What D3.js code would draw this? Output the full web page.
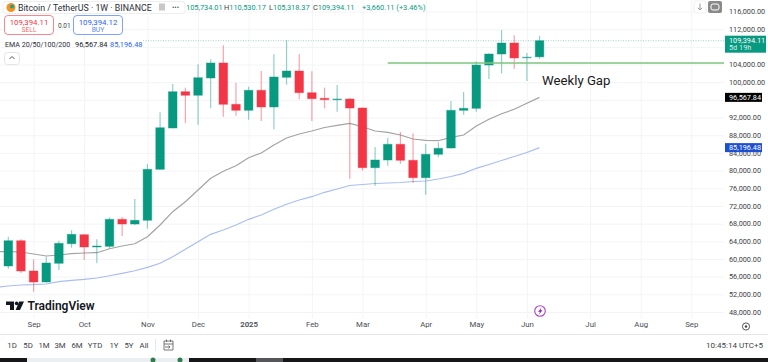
<!DOCTYPE html>
<html>
<head>
<meta charset="utf-8">
<script src="https://cdn.jsdelivr.net/npm/d3@7"></script>
<style>
    html, body { margin: 0; padding: 0; background: #fff; overflow: hidden; }
    svg { display: block; }
    text { font-family: Roboto, sans-serif; }
</style>
</head>
<body>
<div id="chart"></div>
<script>
// weekly candles, first one is the week of 19 Aug 2024
const firstWeek = "2024-08-19";
const opens = [58410,64130,57280,54790,59020,63450,65490,62710,62865,68975,67910,68750,80290,89640,97850,97040,100950,104350,95000,93640,98170,94390,101110,102535,97625,96360,96040,96200,94160,80650,82395,85950,82330,78390,83685,85110,93640,94090,103890,106380,108870,105590,105734.01];
const highs = [65040,64450,59920,60510,64130,66490,65580,64450,69430,69500,73570,81490,93190,99590,98760,104050,105180,108350,99890,98980,102535,106310,109550,106380,102470,98760,99370,96490,94320,85340,87440,88730,88440,86015,86400,95750,97780,104730,106540,111810,110610,106610,110530.17];
const lows = [57800,56820,52590,54700,57500,62550,59760,59020,62410,65200,67620,66850,80200,89500,90770,90380,94090,92190,92420,91510,91220,89340,99435,96130,91220,94090,93325,78160,79970,76580,81105,81560,77190,74540,83005,85000,92650,93325,100725,102015,102990,100270,105318.37];
const closes = [64130,57280,54790,59090,63540,65580,62710,62930,68975,67910,68750,80290,89700,97850,97040,101020,104350,95000,93640,98170,94390,101180,102535,97625,96270,96040,96200,94160,80650,82395,85950,82330,78390,83685,85040,93640,94090,103890,106380,108870,105480,105660,109394.11];

// EMA lines start one week before the first candle (off the left edge)
const emaFirstWeek = "2024-08-12";
const ema100 = [61690,61640,61575,61120,60670,60895,61190,61350,61415,62320,62930,63450,65040,67685,70695,72960,75605,78250,79840,81105,82915,83980,85790,87370,88280,88960,89750,90250,90700,89930,88960,88660,88050,87150,86850,86760,87530,88050,90090,91605,92870,93870,95225,96567.84];
const ema200 = [53585,53880,54105,54175,54330,54855,55170,55395,55690,56210,56755,57340,58110,59020,60510,62185,63905,65580,66555,67685,68975,69950,71240,72370,73340,74090,75085,75830,76625,76850,77075,77190,77300,77530,77640,78095,78660,79385,80515,81375,82280,83185,84090,85196.48];

const priceTicks = [116000,112000,108000,104000,100000,96000,92000,88000,84000,80000,76000,72000,68000,64000,60000,56000,52000,48000];
// these two labels sit completely behind the price tags
const hiddenLabels = [108000,96000];
const monthDates = ["2024-09-02","2024-09-30","2024-11-04","2024-12-02","2024-12-30","2025-02-03","2025-03-03","2025-04-07","2025-05-05","2025-06-02","2025-07-07","2025-08-04","2025-09-01"];
const monthLabels = ["Sep","Oct","Nov","Dec","2025","Feb","Mar","Apr","May","Jun","Jul","Aug","Sep"];
const rangeButtons = ["1D","5D","1M","3M","6M","YTD","1Y","5Y","All"];
const rangeX = [12,28,44,60,77,95,114,129,144];

const gapLevel = 104340;
const gapStart = "2025-03-17";

const width = 768, height = 362;
const plotRight = 724, plotBottom = 318;
const green = "#089981", red = "#f23645";

const parseDay = d3.utcParse("%Y-%m-%d");

const x = d3.scaleUtc()
    .domain([parseDay(firstWeek), parseDay("2025-09-01")])
    .range([8.3, 691.3]);
const y = d3.scaleLinear()
    .domain([48000, 116000])
    .range([312, 11.5]);

const candles = opens.map((o, i) => ({
    date: d3.utcDay.offset(parseDay(firstWeek), i * 7),
    open: o, high: highs[i], low: lows[i], close: closes[i]
}));

const svg = d3.select("#chart").append("svg")
    .attr("width", width)
    .attr("height", height);

svg.append("rect").attr("width", width).attr("height", height).attr("fill", "#fff");

// grid + axis labels come from the same axes
const xAxis = d3.axisBottom(x)
    .tickValues(monthDates.map(parseDay))
    .tickSize(plotBottom)
    .tickPadding(3)
    .tickFormat((d, i) => monthLabels[i]);
const gx = svg.append("g").call(xAxis);
gx.select(".domain").remove();
gx.selectAll("line").attr("stroke", "#f3f4f6");
gx.selectAll("text").attr("font-size", 7.8).attr("fill", "#4a4d57")
    .attr("font-family", "Roboto")
    .attr("font-weight", (d, i) => monthLabels[i] === "2025" ? 600 : 400);

const yAxis = d3.axisRight(y)
    .tickValues(priceTicks)
    .tickSize(plotRight)
    .tickPadding(5)
    .tickFormat(d => hiddenLabels.includes(d) ? "" : d3.format(",.2f")(d));
const gy = svg.append("g").call(yAxis);
gy.select(".domain").remove();
gy.selectAll("line").attr("stroke", "#f3f4f6");
gy.selectAll("text").attr("font-size", 7.3).attr("fill", "#3c3f48").attr("font-family", "Roboto");

// current price dotted line
svg.append("line")
    .attr("x1", 143).attr("x2", plotRight)
    .attr("y1", y(closes[closes.length - 1])).attr("y2", y(closes[closes.length - 1]))
    .attr("stroke", "#9fd6cb").attr("stroke-width", 1).attr("stroke-dasharray", "1,1.5");

// ema lines
const emaDate = i => d3.utcDay.offset(parseDay(emaFirstWeek), i * 7);
const line = d3.line().x((d, i) => x(emaDate(i))).y(d => y(d));
svg.append("path").datum(ema100)
    .attr("d", line).attr("fill", "none").attr("stroke", "#a3a3a3").attr("stroke-width", 1.2);
svg.append("path").datum(ema200)
    .attr("d", line).attr("fill", "none").attr("stroke", "#aabdf0").attr("stroke-width", 1.2);

// candles
const isUp = d => d.close >= d.open;
const color = d => isUp(d) ? green : red;

svg.selectAll(".wick").data(candles).enter().append("line")
    .attr("class", "wick")
    .attr("x1", d => x(d.date)).attr("x2", d => x(d.date))
    .attr("y1", d => y(d.high)).attr("y2", d => y(d.low))
    .attr("stroke", color).attr("stroke-opacity", 0.45).attr("stroke-width", 1.2);

svg.selectAll(".body").data(candles).enter().append("rect")
    .attr("class", "body")
    .attr("x", d => x(d.date) - 4.3)
    .attr("width", 8.6)
    .attr("y", d => y(Math.max(d.open, d.close)))
    .attr("height", d => Math.max(0.6, Math.abs(y(d.open) - y(d.close))))
    .attr("fill", color)
    .attr("stroke", color).attr("stroke-opacity", 0.4).attr("stroke-width", 1);

// weekly gap drawing
svg.append("line")
    .attr("x1", x(parseDay(gapStart))).attr("x2", plotRight)
    .attr("y1", y(gapLevel)).attr("y2", y(gapLevel))
    .attr("stroke", "#7cc47f").attr("stroke-width", 1.4);
svg.append("text")
    .attr("x", 542).attr("y", 85)
    .attr("font-size", 13.2).attr("font-family", "Open Sans").attr("fill", "#1a1a1a")
    .text("Weekly Gap");

// price tags on the scale
function priceTag(value, color, w, sub) {
    const cy = y(value);
    const h = sub ? 17 : 9;
    const top = sub ? cy - 5 : cy - 4.5;
    svg.append("rect").attr("x", 725).attr("y", top).attr("width", w).attr("height", h)
        .attr("fill", color);
    svg.append("text").attr("x", 729).attr("y", top + 7.1)
        .attr("font-size", 7.3).attr("fill", "#fff")
        .text(d3.format(",.2f")(value));
    if (sub) {
        svg.append("text").attr("x", 729).attr("y", top + 14.8)
            .attr("font-size", 7.3).attr("fill", "#d8f0ea").text(sub);
    }
}
priceTag(closes[closes.length - 1], green, 41, "5d 19h");
priceTag(ema100[ema100.length - 1], "#000", 37);
priceTag(ema200[ema200.length - 1], "#1c4fd4", 37);

// header
svg.append("rect").attr("x", 3).attr("y", 1.5).attr("width", 182).attr("height", 12).attr("rx", 3)
    .attr("fill", "#fff").attr("stroke", "#eeeeee");
svg.append("circle").attr("cx", 11).attr("cy", 7.5).attr("r", 4.5).attr("fill", "#f7931a");
svg.append("circle").attr("cx", 12).attr("cy", 6.5).attr("r", 2).attr("fill", "#1f9e8f");
svg.append("text").attr("x", 18).attr("y", 10.5).attr("font-size", 8.8).attr("fill", "#2a2e39")
    .text("Bitcoin / TetherUS · 1W · BINANCE");
svg.append("rect").attr("x", 159).attr("y", 3.5).attr("width", 6).attr("height", 7).attr("fill", "#c8c8c8");
svg.append("text").attr("x", 172).attr("y", 10).attr("font-size", 7).attr("fill", "#555").text("•••");

const ohlc = [[186, "105,734.01", ""], [224, "110,530.17", "H"], [269, "105,318.37", "L"], [313, "109,394.11", "C"], [362, "+3,660.11 (+3.46%)", ""]];
ohlc.forEach(o => {
    const t = svg.append("text").attr("x", o[0]).attr("y", 9.5).attr("font-size", 7.4);
    t.append("tspan").attr("fill", "#3c3f48").text(o[2]);
    t.append("tspan").attr("fill", green).text(o[1]);
});

function tradeBox(bx, col, price, label) {
    svg.append("rect").attr("x", bx).attr("y", 15.5).attr("width", 49).attr("height", 19).attr("rx", 3.5)
        .attr("fill", "#fff").attr("stroke", col).attr("stroke-opacity", 0.6);
    svg.append("text").attr("x", bx + 24.5).attr("y", 24.5).attr("text-anchor", "middle")
        .attr("font-size", 7.8).attr("fill", col).text(price);
    svg.append("text").attr("x", bx + 24.5).attr("y", 32).attr("text-anchor", "middle")
        .attr("font-size", 6.8).attr("fill", col).attr("fill-opacity", 0.8).text(label);
}
tradeBox(4.5, red, "109,394.11", "SELL");
tradeBox(73.5, "#2962ff", "109,394.12", "BUY");
svg.append("text").attr("x", 58).attr("y", 28).attr("font-size", 6.5).attr("fill", "#3c3f48").text("0.01");

svg.append("text").attr("x", 5).attr("y", 47).attr("font-size", 7.1).attr("fill", "#2a2e39").text("EMA 20/50/100/200");
svg.append("text").attr("x", 75).attr("y", 47).attr("font-size", 7.4).attr("fill", "#131722").text("96,567.84");
svg.append("text").attr("x", 110).attr("y", 47).attr("font-size", 7.4).attr("fill", "#2962ff").text("85,196.48");

svg.append("rect").attr("x", 4.5).attr("y", 52.5).attr("width", 15).attr("height", 12).attr("rx", 3)
    .attr("fill", "#fff").attr("stroke", "#e4e4e4");
svg.append("path").attr("d", "M9.5 59 L12 56.5 L14.5 59").attr("fill", "none").attr("stroke", "#555");

// top right buttons
svg.append("rect").attr("x", 694).attr("y", 1).attr("width", 12).attr("height", 12).attr("rx", 2)
    .attr("fill", "#fff").attr("stroke", "#f0f0f0");
svg.append("path").attr("d", "M700 3.5 V10 M697.8 7.8 L700 10 L702.2 7.8").attr("fill", "none").attr("stroke", "#999");
svg.append("rect").attr("x", 708).attr("y", 1).attr("width", 14).attr("height", 12).attr("rx", 2).attr("fill", "#8a8a8a");
svg.append("rect").attr("x", 711).attr("y", 4).attr("width", 8).attr("height", 6).attr("rx", 2)
    .attr("fill", "none").attr("stroke", "#fff");

// tradingview logo
svg.append("path")
    .attr("d", "M6 301.5 H14 V310 H10 V305 H6 Z M19.2 301.5 H24 L20 310 H15.6 Z")
    .attr("fill", "#131722");
svg.append("circle").attr("cx", 16.6).attr("cy", 303.4).attr("r", 1.8).attr("fill", "#131722");
svg.append("text").attr("x", 27.5).attr("y", 310)
    .attr("font-size", 12).attr("font-weight", 600).attr("fill", "#131722").text("TradingView");

// bolt marker on the time axis
svg.append("circle").attr("cx", 540).attr("cy", 311).attr("r", 5.3)
    .attr("fill", "#fff").attr("stroke", "#ab47bc").attr("stroke-width", 1.1);
svg.append("path").attr("d", "M541.5 307.5 L538 311.8 H540 L539 314.5 L542.5 310.2 H540.5 Z").attr("fill", "#8e24aa");

// axis settings icon
svg.append("circle").attr("cx", 746).attr("cy", 326.5).attr("r", 3.6)
    .attr("fill", "none").attr("stroke", "#444").attr("stroke-width", 0.9);
svg.append("circle").attr("cx", 746).attr("cy", 326.5).attr("r", 1.2).attr("fill", "#444");

// bottom toolbar
svg.append("line").attr("x1", 0).attr("x2", width).attr("y1", 334.5).attr("y2", 334.5).attr("stroke", "#e6e7ea");
svg.selectAll(".range").data(rangeButtons).enter().append("text")
    .attr("class", "range")
    .attr("x", (d, i) => rangeX[i]).attr("y", 348)
    .attr("text-anchor", "middle")
    .attr("font-size", 7.8).attr("fill", "#3c3f48")
    .text(d => d);
svg.append("line").attr("x1", 155.5).attr("x2", 155.5).attr("y1", 339).attr("y2", 351).attr("stroke", "#e6e7ea");
svg.append("path")
    .attr("d", "M164 341 H173 V350 H164 Z M164 344 H173 M166.5 339.5 V342 M170.5 339.5 V342 M165 347 H170 M168.5 345.5 L170 347 L168.5 348.5")
    .attr("fill", "none").attr("stroke", "#555").attr("stroke-width", 0.8);
svg.append("text").attr("x", 763).attr("y", 348).attr("text-anchor", "end")
    .attr("font-size", 8).attr("fill", "#3c3f48").text("10:45:14 UTC+5");

// desktop strip cut off at the bottom of the screenshot
svg.append("rect").attr("x", 0).attr("y", 358).attr("width", width).attr("height", 4).attr("fill", "#17171a");
svg.append("rect").attr("x", 27).attr("y", 358).attr("width", 162).attr("height", 4).attr("fill", "#eceff1");
svg.append("rect").attr("x", 256).attr("y", 358).attr("width", 27).attr("height", 4).attr("fill", "#55565a");
svg.append("circle").attr("cx", 153).attr("cy", 360).attr("r", 2.5).attr("fill", "#2e7d4f");
svg.append("circle").attr("cx", 180).attr("cy", 360).attr("r", 2.5).attr("fill", "#2e7d4f");
</script>
</body>
</html>
